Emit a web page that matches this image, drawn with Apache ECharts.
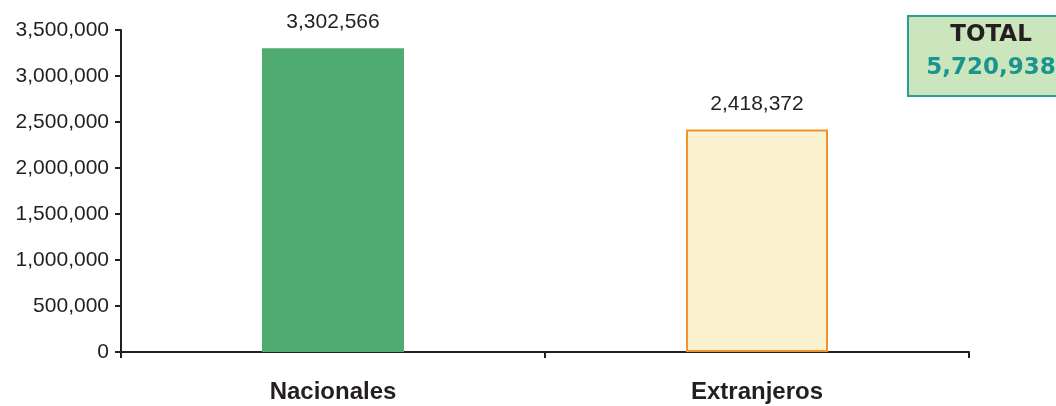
<!DOCTYPE html>
<html><head><meta charset="utf-8">
<script src="https://cdn.jsdelivr.net/npm/echarts@6/dist/echarts.min.js"></script>
<style>html,body{margin:0;padding:0;background:#fff}#c{width:1056px;height:406px}</style>
</head><body><div id="c"></div>
<script>
const categories = ['Nacionales', 'Extranjeros'];
const values = [3302566, 2418372];
const totalLabel = 'TOTAL';
const totalValue = 5720938;

const fmt = v => v.toLocaleString('en-US');
const chart = echarts.init(document.getElementById('c'));
chart.setOption({
  animation: false,
  grid: {left: 121, right: 87, top: 30, bottom: 54},
  xAxis: {
    type: 'category', data: categories,
    axisLine: {lineStyle: {color: '#231f20', width: 2}},
    axisTick: {show: true, length: 6, lineStyle: {color: '#231f20', width: 2}},
    axisLabel: {color: '#231f20', fontFamily: 'Liberation Sans', fontWeight: 'bold', fontSize: 24, margin: 28}
  },
  yAxis: {
    type: 'value', min: 0, max: 3500000, interval: 500000,
    axisLine: {show: true, lineStyle: {color: '#231f20', width: 2}},
    axisTick: {show: true, length: 6, lineStyle: {color: '#231f20', width: 2}},
    splitLine: {show: false},
    axisLabel: {color: '#231f20', fontFamily: 'Liberation Sans', fontSize: 21, margin: 12, formatter: v => fmt(v)}
  },
  series: [{
    type: 'bar', barWidth: 142,
    data: [
      {value: values[0], itemStyle: {color: '#4faa6f'}},
      {value: values[1], itemStyle: {color: '#faf1cf', borderColor: '#f0932c', borderWidth: 2}}
    ],
    label: {show: true, position: 'top', distance: 15, color: '#231f20', fontFamily: 'Liberation Sans', fontSize: 21, formatter: p => fmt(p.value)}
  }],
  graphic: [
    {type: 'rect', shape: {x: 908, y: 16, width: 160, height: 80}, style: {fill: '#cbe5bd', stroke: '#2a9d96', lineWidth: 2}},
    {type: 'text', x: 991, y: 35, style: {text: totalLabel, fill: '#231f20', font: 'bold 23px "DejaVu Sans"', align: 'center', verticalAlign: 'middle'}},
    {type: 'text', x: 991, y: 68, style: {text: fmt(totalValue), fill: '#1a9490', font: 'bold 23px "DejaVu Sans"', align: 'center', verticalAlign: 'middle'}}
  ]
});
</script></body></html>
